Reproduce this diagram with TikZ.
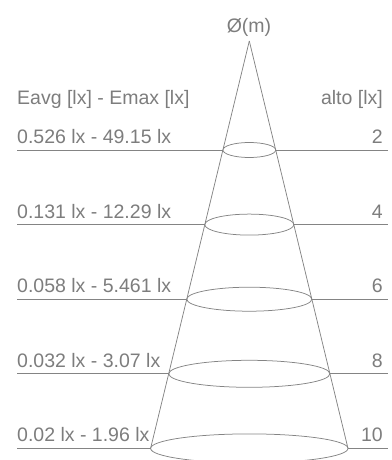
\documentclass[tikz,border=0pt]{standalone}
\usepackage{fontspec}
\setmainfont{Liberation Sans}
\usetikzlibrary{shapes.geometric}
\definecolor{TextGrey}{RGB}{125,125,125}
\definecolor{LineGrey}{RGB}{132,132,132}

\begin{document}
\begin{tikzpicture}[x=1pt,y=-1pt,
        lbl/.style={text=TextGrey,font=\fontsize{19.5}{22}\selectfont,inner sep=0pt},
        ring/.style={draw=LineGrey,line width=0.75pt,ellipse,inner sep=0pt,outer sep=0pt},
        arr/.style={draw=LineGrey,line width=0.75pt}
      ]
        \useasboundingbox (0,0) rectangle (391,460);
        % headers
        \node[lbl,anchor=base]      (dm) at (249,33)  {Ø(m)};
        \node[lbl,anchor=base west] (eh) at (17,104)  {Eavg [lx] - Emax [lx]};
        \node[lbl,anchor=base east] (ah) at (383,104) {alto [lx]};
        % rings of the cone
        \node[ring,minimum width=52.8pt,minimum height=15pt]  (e1) at (249.3,150) {};
        \node[ring,minimum width=89pt,minimum height=21pt]    (e2) at (249.3,224.6) {};
        \node[ring,minimum width=125pt,minimum height=24pt]   (e3) at (249.3,299.2) {};
        \node[ring,minimum width=161.2pt,minimum height=27pt] (e4) at (249.3,373.8) {};
        \node[ring,minimum width=197.4pt,minimum height=29pt] (e5) at (249.3,448.4) {};
        \coordinate (apex) at (249.3,41);
        \draw[arr] (apex) -- (e5.west); \draw[arr] (apex) -- (e5.east);
        % illuminance and height labels
        \node[lbl,anchor=base west] (t1) at (17,143.5)   {0.526 lx - 49.15 lx};
        \node[lbl,anchor=base west] (t2) at (17,218.1) {0.131 lx - 12.29 lx};
        \node[lbl,anchor=base west] (t3) at (17,292.7) {0.058 lx - 5.461 lx};
        \node[lbl,anchor=base west] (t4) at (17,367.3) {0.032 lx - 3.07 lx};
        \node[lbl,anchor=base west] (t5) at (17,441.9) {0.02 lx - 1.96 lx};
        \node[lbl,anchor=base east] (h1) at (383,143.5)   {2};
        \node[lbl,anchor=base east] (h2) at (383,218.1) {4};
        \node[lbl,anchor=base east] (h3) at (383,292.7) {6};
        \node[lbl,anchor=base east] (h4) at (383,367.3) {8};
        \node[lbl,anchor=base east] (h5) at (383,441.9) {10};
        % guide lines
        \coordinate (l1) at (17,150);   \coordinate (r1) at (388,150);
        \coordinate (l2) at (17,224.6); \coordinate (r2) at (388,224.6);
        \coordinate (l3) at (17,299.2); \coordinate (r3) at (388,299.2);
        \coordinate (l4) at (17,373.8); \coordinate (r4) at (388,373.8);
        \coordinate (l5) at (17,448.4); \coordinate (r5) at (388,448.4);
        \draw[arr] (l1) -- (e1.west); \draw[arr] (e1.east) -- (r1);
        \draw[arr] (l2) -- (e2.west); \draw[arr] (e2.east) -- (r2);
        \draw[arr] (l3) -- (e3.west); \draw[arr] (e3.east) -- (r3);
        \draw[arr] (l4) -- (e4.west); \draw[arr] (e4.east) -- (r4);
        \draw[arr] (l5) -- (e5.west); \draw[arr] (e5.east) -- (r5);
      \end{tikzpicture}
\end{document}
